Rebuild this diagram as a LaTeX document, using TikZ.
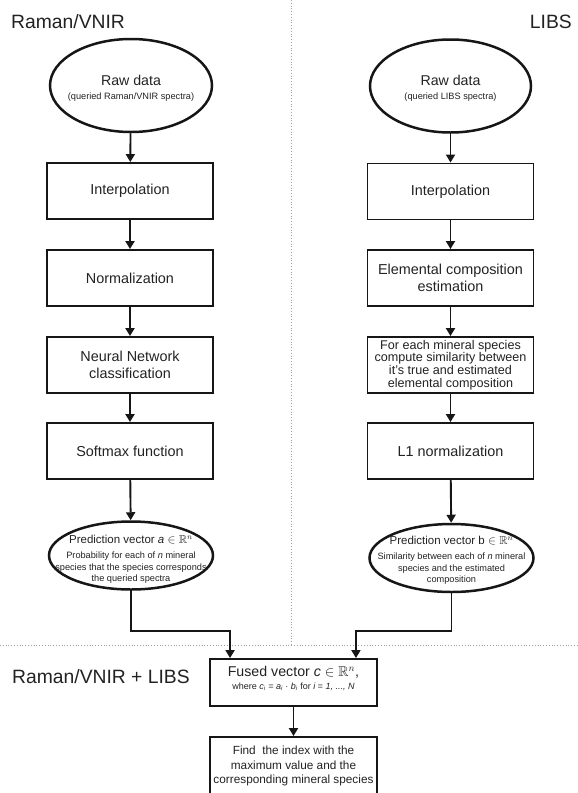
\documentclass[tikz,border=0pt]{standalone}
\usepackage{fontspec}
\setmainfont{Liberation Sans}
\usepackage{amssymb}
\usetikzlibrary{shapes.geometric,arrows.meta,calc}
\definecolor{ink}{HTML}{161616}
\definecolor{txt}{HTML}{222222}
\definecolor{dots}{HTML}{A0A0A0}
\tikzset{
  box/.style={draw=ink, line width=1.9pt, minimum width=166pt, minimum height=56pt, inner sep=0pt, align=center, text=txt, font=\fontsize{14.4}{17}\selectfont},
  ell/.style={draw=ink, line width=2.5pt, ellipse, inner sep=0pt},
  arr/.style={draw=ink, line width=1.9pt, -{Triangle[length=8pt,width=9pt]}},
  sep/.style={draw=dots, line width=0.8pt, dotted},
  ttl/.style={inner sep=0pt, text=txt, font=\fontsize{19.3}{22}\selectfont},
  lbl/.style={inner sep=0pt, text=txt, align=center},
  big/.style={font=\fontsize{14.2}{17}\selectfont},
  mid/.style={font=\fontsize{11.5}{14}\selectfont},
  sml/.style={font=\fontsize{9.2}{11.6}\selectfont},
}
\begin{document}
\begin{tikzpicture}[x=1pt,y=-1pt]
\useasboundingbox (0,0) rectangle (578,793);

% separators
\coordinate (vt) at (291,0);
\coordinate (vb) at (291,645);
\coordinate (hl) at (0,645);
\coordinate (hr) at (578,645);
\draw[sep] (vt) -- (vb);
\draw[sep] (hl) -- (hr);

% titles
\node[ttl, anchor=base west] (t1) at (11,28) {Raman/VNIR};
\node[ttl, anchor=base east] (t2) at (572,28) {LIBS};
\node[ttl, anchor=base west] (t3) at (12,683) {Raman/VNIR + LIBS};

% left column
\node[ell, minimum width=162pt, minimum height=93pt] (rawL) at (131,85.5) {};
\node[lbl, big] (rawLa) at (131,80) {Raw data};
\node[lbl, sml] (rawLb) at (131,97) {(queried Raman/VNIR spectra)};
\node[box] (iL) at (130,191) {Interpolation};
\node[box] (nL) at (130,278) {Normalization};
\node[box] (nnL) at (130,365) {Neural Network\\classification};
\node[box] (sL) at (130,451) {Softmax function};
\node[ell, minimum width=164pt, minimum height=68pt] (pa) at (131,555.5) {};
\node[lbl, mid] (paa) at (131,540) {Prediction vector \textit{a} $\in\mathbb{R}^{n}$};
\node[lbl, sml] (pab) at (131,568) {Probability for each of \textit{n} mineral\\species that the species corresponds\\the queried spectra};

% right column
\node[ell, minimum width=161pt, minimum height=93pt] (rawR) at (450.5,86) {};
\node[lbl, big] (rawRa) at (450.5,80) {Raw data};
\node[lbl, sml] (rawRb) at (450.5,97) {(queried LIBS spectra)};
\node[box] (iR) at (450.5,191.5) {Interpolation};
\node[box] (eR) at (450.5,278) {Elemental composition\\estimation};
\node[box, font=\fontsize{12.6}{12.8}\selectfont] (fR) at (450.5,365) {For each mineral species\\compute similarity between\\it's true and estimated\\elemental composition};
\node[box] (lR) at (450.5,451) {L1 normalization};
\node[ell, minimum width=164pt, minimum height=68pt] (pb) at (451.5,558) {};
\node[lbl, mid] (pba) at (451.5,540.5) {Prediction vector b $\in\mathbb{R}^{n}$};
\node[lbl, sml] (pbb) at (451.5,569) {Similarity between each of \textit{n} mineral\\species and the estimated\\composition};

% fusion
\node[box, minimum width=167pt, minimum height=47pt] (fu) at (293.5,682.5) {};
\node[lbl, big] (fua) at (293.5,672) {Fused vector \textit{c} $\in\mathbb{R}^{n}$,};
\node[lbl, font=\fontsize{9}{11}\selectfont] (fub) at (293.5,687) {where \textit{c\textsubscript{i} = a\textsubscript{i} · b\textsubscript{i}} for \textit{i = 1, ..., N}};
\node[box, minimum width=167pt, minimum height=66pt] (fd) at (293.5,770) {};
\node[lbl, font=\fontsize{11.8}{14.5}\selectfont] (fda) at (293.5,766) {Find\ \ the index with the\\maximum value and the\\corresponding mineral species};

% connectors
\draw[arr] (rawL) -- (iL);
\draw[arr] (iL) -- (nL);
\draw[arr] (nL) -- (nnL);
\draw[arr] (nnL) -- (sL);
\draw[arr] (sL) -- (pa);
\draw[arr] (rawR) -- (iR);
\draw[arr] (iR) -- (eR);
\draw[arr] (eR) -- (fR);
\draw[arr] (fR) -- (lR);
\draw[arr] (lR) -- (pb);
\coordinate (lvl) at (0,631);
\coordinate (fa) at ([xshift=21pt]fu.north west);
\coordinate (fb) at ([xshift=-22pt]fu.north east);
\draw[arr] (pa.south) -- (pa.south |- lvl) -| (fa);
\draw[arr] (pb.south) -- (pb.south |- lvl) -| (fb);
\draw[arr] (fu) -- (fd);
\end{tikzpicture}
\end{document}
